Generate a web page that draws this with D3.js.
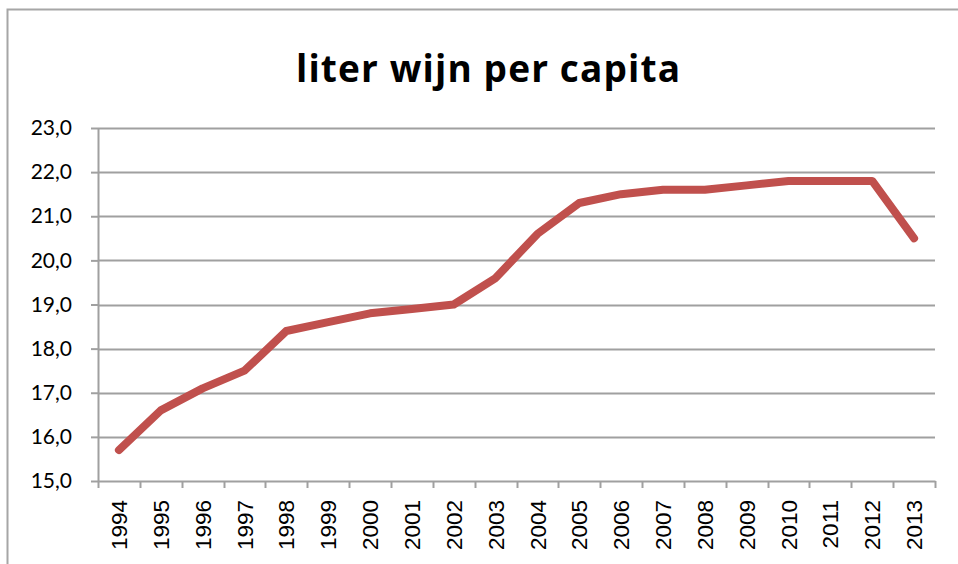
<!DOCTYPE html>
<html>
<head>
<meta charset="utf-8">
<script src="https://d3js.org/d3.v7.min.js"></script>
<style>
  body { margin: 0; background: #fff; }
</style>
</head>
<body>
<svg class="target"></svg>
<script>

// data
years = ['1994','1995','1996','1997','1998','1999','2000','2001','2002','2003',
         '2004','2005','2006','2007','2008','2009','2010','2011','2012','2013']
liters = [15.7, 16.6, 17.1, 17.5, 18.4, 18.6, 18.8, 18.9, 19.0, 19.6,
          20.6, 21.3, 21.5, 21.6, 21.6, 21.7, 21.8, 21.8, 21.8, 20.5]
yTicks = [15, 16, 17, 18, 19, 20, 21, 22, 23]

width = 958
height = 564
margin = ({ top: 128, right: 23, bottom: 83, left: 98 })

const svg = d3.select('.target')
  .attr('width', width)
  .attr('height', height)

// outer frame
svg.append('rect')
  .attr('x', 7.5).attr('y', 9.5)
  .attr('width', width).attr('height', height)
  .attr('fill', 'none')
  .attr('stroke', '#a6a6a6')
  .attr('stroke-width', 2)

svg.append('text')
  .attr('x', 488)
  .attr('y', 82)
  .attr('text-anchor', 'middle')
  .style('font-family', '"Open Sans", sans-serif')
  .style('font-weight', 'bold')
  .style('font-size', '37px')
  .attr('textLength', 384)
  .text('liter wijn per capita')

const x = d3.scaleBand()
  .domain(years)
  .range([margin.left, width - margin.right])

const y = d3.scaleLinear()
  .domain([15, 23])
  .range([height - margin.bottom, margin.top])

// gridlines
svg.append('g')
  .selectAll('line')
  .data(yTicks.slice(1))
  .join('line')
    .attr('x1', margin.left)
    .attr('x2', width - margin.right)
    .attr('y1', d => Math.round(y(d)) + 0.5)
    .attr('y2', d => Math.round(y(d)) + 0.5)
    .attr('stroke', '#a0a0a0')
    .attr('stroke-width', 2)

// y axis
const yAxis = svg.append('g')
  .attr('transform', `translate(${margin.left},0)`)
  .call(d3.axisLeft(y).tickValues(yTicks).tickSize(7).tickSizeOuter(0)
    .tickFormat(d => d3.format('.1f')(d).replace('.', ',')))
yAxis.selectAll('path, line').attr('stroke', '#a0a0a0').attr('stroke-width', 2)
yAxis.selectAll('text')
  .attr('x', -26)
  .style('font-family', 'Lato, sans-serif')
  .style('font-size', '21px')
  .attr('fill', '#000')

// x axis
const xAxis = svg.append('g')
  .attr('transform', `translate(0,${height - margin.bottom})`)
  .call(d3.axisBottom(x).tickSize(0).tickSizeOuter(0))
xAxis.select('.domain').attr('stroke', '#a0a0a0').attr('stroke-width', 2)

// tick marks on band edges
svg.append('g')
  .selectAll('line')
  .data(years.concat(['end']))
  .join('line')
    .attr('x1', (d, i) => Math.round(margin.left + i * x.bandwidth()) + 0.5)
    .attr('x2', (d, i) => Math.round(margin.left + i * x.bandwidth()) + 0.5)
    .attr('y1', height - margin.bottom)
    .attr('y2', height - margin.bottom + 7)
    .attr('stroke', '#a0a0a0')
    .attr('stroke-width', 2)

xAxis.selectAll('text')
  .attr('transform', 'rotate(-90)')
  .attr('x', -19)
  .attr('y', 0)
  .attr('dy', '0.36em')
  .attr('text-anchor', 'end')
  .style('font-family', '"Liberation Sans", Arial, sans-serif')
  .style('font-size', '22.5px')
  .attr('fill', '#000')

// the line
const line = d3.line()
  .x((d, i) => x(years[i]) + x.bandwidth() / 2)
  .y(d => y(d))

svg.append('path')
  .datum(liters)
  .attr('d', line)
  .attr('fill', 'none')
  .attr('stroke', '#c0504d')
  .attr('stroke-width', 8)
  .attr('stroke-linejoin', 'round')
  .attr('stroke-linecap', 'round')

</script>
</body>
</html>
